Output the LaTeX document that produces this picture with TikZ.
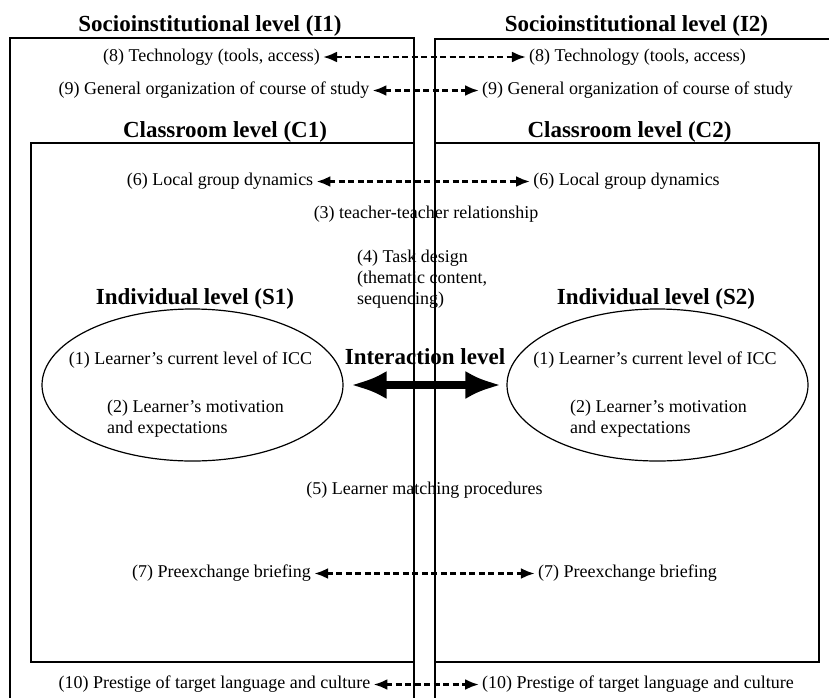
\documentclass[tikz,border=0pt]{standalone}
\usepackage{fontspec}
\setmainfont{Liberation Serif}
\usetikzlibrary{arrows.meta, shapes.geometric}

\begin{document}
\begin{tikzpicture}[x=1pt, y=-1pt, frame/.style={draw, line width=1.6pt}, lvl/.style={font=\fontsize{23}{27}\selectfont\bfseries, inner sep=1pt}, item/.style={font=\fontsize{18}{21}\selectfont, inner sep=3pt}, learner/.style={draw, ellipse, line width=1.2pt, minimum width=301pt, minimum height=152pt}, link/.style={{Latex[length=14pt, width=11pt]}-{Latex[length=14pt, width=11pt]}, line width=2.6pt, dash pattern=on 6pt off 3.5pt}, big/.style={{Latex[length=36pt, width=28pt]}-{Latex[length=36pt, width=28pt]}, line width=8pt}]
        \useasboundingbox (0,0) rectangle (829,697);
        \clip (0,0) rectangle (829,697);
        % frames
        \draw[frame] (10,710) -- (10,38) -- (414,38) -- (414,710);
        \draw[frame] (840,39) -- (435,39) -- (435,710);
        \draw[frame] (31,143) rectangle (414,662);
        \draw[frame] (435,143) rectangle (819,662);
        % level titles
        \node[lvl] (I1) at (210,25.5) {Socioinstitutional level (I1)};
        \node[lvl] (I2) at (636.5,25.5) {Socioinstitutional level (I2)};
        \node[lvl] (C1) at (225,131.5) {Classroom level (C1)};
        \node[lvl] (C2) at (629.5,131.5) {Classroom level (C2)};
        \node[lvl] (S1) at (195,298.5) {Individual level (S1)};
        \node[lvl] (S2) at (656,298.5) {Individual level (S2)};
        \node[lvl] (IL) at (425,356.5) {Interaction level};
        % learners
        \node[learner] (E1) at (192.5,385) {};
        \node[learner] (E2) at (657.5,385) {};
        \node[item] (ICC1) at (190.5,360.5) {(1) Learner’s current level of ICC};
        \node[item] (ICC2) at (655,360.5) {(1) Learner’s current level of ICC};
        \node[item, align=left, anchor=west] (mot1) at (104,419) {(2) Learner’s motivation\\and expectations};
        \node[item, align=left, anchor=west] (mot2) at (567,419) {(2) Learner’s motivation\\and expectations};
        % factors
        \node[item] (tech1) at (211.5,57) {(8) Technology (tools, access)};
        \node[item] (tech2) at (637.5,57) {(8) Technology (tools, access)};
        \node[item] (org1) at (214,90.5) {(9) General organization of course of study};
        \node[item] (org2) at (637.5,90.5) {(9) General organization of course of study};
        \node[item] (grp1) at (220,181.5) {(6) Local group dynamics};
        \node[item] (grp2) at (626.5,181.5) {(6) Local group dynamics};
        \node[item] (tt) at (426,214.5) {(3) teacher-teacher relationship};
        \node[item, align=left, anchor=west] (task) at (354,279.5) {(4) Task design\\(thematic content,\\sequencing)};
        \node[item] (match) at (424.5,490.5) {(5) Learner matching procedures};
        \node[item] (brief1) at (221.5,573.5) {(7) Preexchange briefing};
        \node[item] (brief2) at (627.5,573.5) {(7) Preexchange briefing};
        \node[item] (pres1) at (214.5,684.5) {(10) Prestige of target language and culture};
        \node[item] (pres2) at (638,684.5) {(10) Prestige of target language and culture};
        % links
        \draw[link] (tech1) -- (tech2);
        \draw[link] (org1) -- (org2);
        \draw[link] (grp1) -- (grp2);
        \draw[link] (brief1) -- (brief2);
        \draw[link] (pres1) -- (pres2);
        \draw[big] ([xshift=7pt]E1.east) -- ([xshift=-5pt]E2.west);
    \end{tikzpicture}
\end{document}
